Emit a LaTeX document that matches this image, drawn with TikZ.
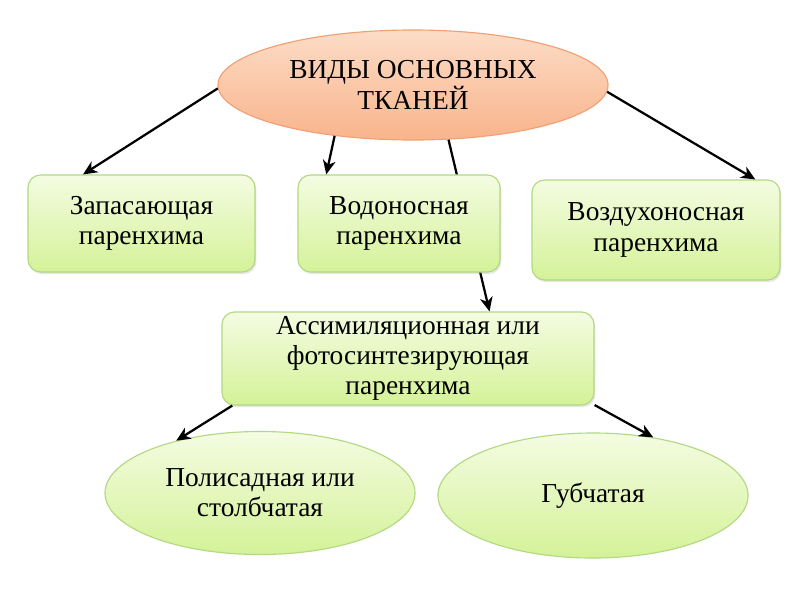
\documentclass[tikz,border=0pt]{standalone}
\usepackage{fontspec}
\setmainfont[Ligatures=TeX]{Liberation Serif}
\usetikzlibrary{shapes.geometric,shadows,arrows.meta}
\definecolor{orTop}{RGB}{252,220,198}
\definecolor{orBot}{RGB}{249,180,140}
\definecolor{orLine}{RGB}{240,160,115}
\definecolor{grTop}{RGB}{244,252,226}
\definecolor{grBot}{RGB}{212,242,152}
\definecolor{grLine}{RGB}{178,216,130}
\tikzset{
  txt/.style={align=center, font=\rmfamily\fontsize{19.5}{21.5}\selectfont, text=black},
  oval/.style={txt, ellipse, draw=orLine, line width=0.8pt,
    top color=orTop, bottom color=orBot, inner sep=0pt},
  plate/.style={txt, rectangle, rounded corners=9pt, draw=grLine, line width=0.8pt,
    top color=grTop, bottom color=grBot, inner sep=0pt,
    drop shadow={opacity=0.2, shadow xshift=1pt, shadow yshift=-1.5pt}},
  leaf/.style={txt, ellipse, draw=grLine, line width=0.8pt,
    top color=grTop, bottom color=grBot, inner sep=0pt},
  arr/.style={-{Stealth[length=10pt, width=9pt, inset=3pt]}, line width=1.6pt, black}
}
\begin{document}
\begin{tikzpicture}[x=0.025cm, y=-0.025cm]
    \useasboundingbox (0,0) rectangle (800,600);
    % верхний овал
    \node[oval, minimum width=9.75cm, minimum height=2.75cm] (vid) at (413,85)
        {ВИДЫ ОСНОВНЫХ\\ТКАНЕЙ};
    % линия за блоком "Водоносная"
    \node[plate, minimum width=9.3cm, minimum height=2.325cm] (assim) at (408,358.5)
        {Ассимиляционная или\\фотосинтезирующая\\паренхима};
    \draw[arr] (vid.303.9) -- (assim.30.5);
    % блоки второго уровня
    \node[plate, minimum width=5.675cm, minimum height=2.425cm] (zap) at (141.5,223.5)
        {Запасающая\\паренхима};
    \node[plate, minimum width=5.05cm, minimum height=2.425cm] (vod) at (399,223.5)
        {Водоносная\\паренхима};
    \node[plate, minimum width=6.2cm, minimum height=2.5cm] (vozd) at (656,230)
        {Воздухоносная\\паренхима};
    % нижние овалы
    \node[leaf, minimum width=7.75cm, minimum height=3.075cm] (pol) at (260,493)
        {Полисадная или\\столбчатая};
    \node[leaf, minimum width=7.75cm, minimum height=3.125cm] (gub) at (593,495.5)
        {Губчатая};
    % стрелки
    \draw[arr] (vid.181) -- (zap.140.8);
    \draw[arr] (vid.213.5) -- (vod.146.4);
    \draw[arr] (vid.358.5) -- (vozd.27.5);
    \draw[arr] (assim.195) -- (pol.148);
    \draw[arr] (assim.346.7) -- (gub.44.8);
\end{tikzpicture}
\end{document}
